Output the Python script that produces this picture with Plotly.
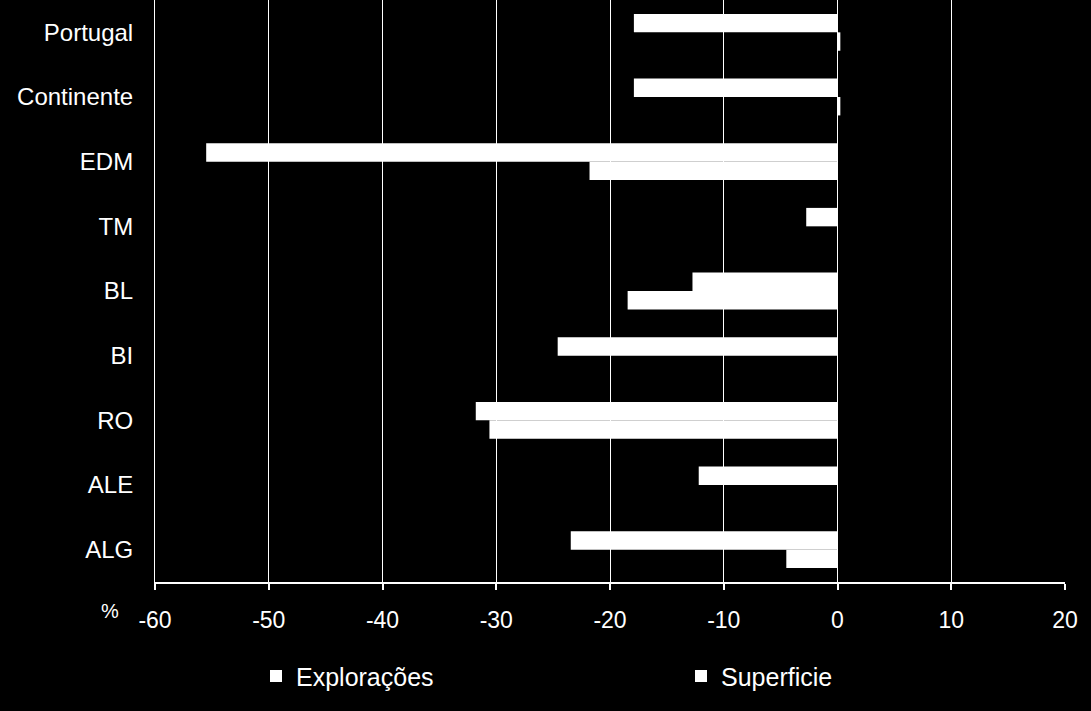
import plotly.graph_objects as go

categories = ["Portugal", "Continente", "EDM", "TM", "BL", "BI", "RO", "ALE", "ALG"]
exploracoes = [-17.9, -17.9, -55.5, -2.75, -12.75, -24.6, -31.8, -12.2, -23.45]
superficie = [0.25, 0.25, -21.8, None, -18.45, None, -30.6, None, -4.5]
x_ticks = [-60, -50, -40, -30, -20, -10, 0, 10, 20]

FONT = "Liberation Sans, Arial, sans-serif"

fig = go.Figure()
fig.add_trace(go.Bar(name="Explorações", y=categories, x=exploracoes, orientation="h",
                     marker=dict(color="white", line=dict(width=0)), legend="legend"))
fig.add_trace(go.Bar(name="Superficie", y=categories, x=superficie, orientation="h",
                     marker=dict(color="white", line=dict(width=0)), legend="legend2"))

leg_common = dict(orientation="h", xref="container", yref="container", xanchor="left",
                  yanchor="middle", y=0.049, font=dict(size=25, color="white"),
                  bgcolor="rgba(0,0,0,0)", itemwidth=30)

fig.update_layout(
    width=1091, height=711,
    paper_bgcolor="black", plot_bgcolor="black",
    margin=dict(l=155, r=26, t=0, b=129, pad=0),
    barmode="group", bargap=0.43, bargroupgap=0,
    font=dict(family=FONT, color="white", size=24),
    showlegend=True,
    legend=dict(x=256 / 1091, **leg_common),
    legend2=dict(x=681 / 1091, **leg_common),
    xaxis=dict(range=[-60, 20], tickvals=x_ticks, ticktext=[str(v) for v in x_ticks],
               showgrid=True, gridcolor="white", gridwidth=1,
               zeroline=False, showline=True, linecolor="white", linewidth=2,
               ticks="outside", ticklen=6, tickwidth=1.5, tickcolor="white",
               tickfont=dict(size=23, color="white"), ticklabelstandoff=10, fixedrange=True),
    yaxis=dict(autorange="reversed", showgrid=False, zeroline=False,
               showline=True, linecolor="white", linewidth=1,
               ticks="", tickfont=dict(size=24, color="white"), ticklabelstandoff=16,
               fixedrange=True),
    annotations=[dict(text="%", xref="paper", yref="paper", x=-0.050, y=-0.05,
                      xanchor="center", yanchor="middle", showarrow=False,
                      font=dict(size=20, color="white", family=FONT))],
)

fig.write_html("out.html")
